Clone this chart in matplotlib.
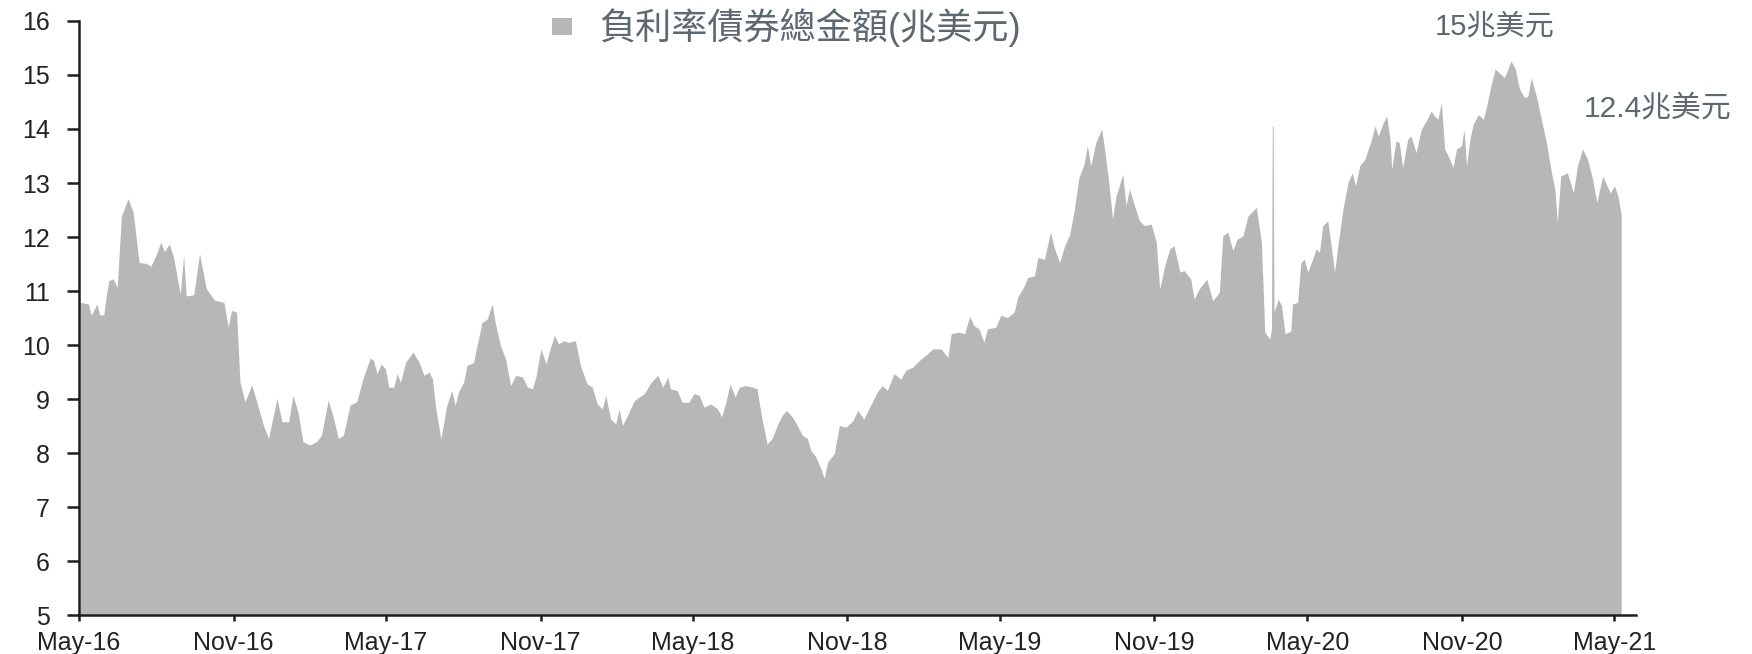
import numpy as np
import pandas as pd
import matplotlib
matplotlib.use("Agg")
import matplotlib.pyplot as plt
import matplotlib.dates as mdates
from matplotlib.patches import Patch

# 拉丁字母用 Liberation Sans，中文退回 Noto Sans CJK TC
plt.rcParams['font.family'] = ['Liberation Sans', 'Noto Sans CJK TC', 'DejaVu Sans']

# 全球負利率債券總金額（兆美元）
dates = [
    # 2016
    "2016-05-03", "2016-05-13", "2016-05-16", "2016-05-23", "2016-05-26", "2016-05-31",
    "2016-06-03", "2016-06-06", "2016-06-11", "2016-06-16", "2016-06-21", "2016-06-29",
    "2016-07-05", "2016-07-12", "2016-07-21", "2016-07-26", "2016-08-01", "2016-08-07",
    "2016-08-11", "2016-08-17", "2016-08-22", "2016-08-30", "2016-09-03", "2016-09-06",
    "2016-09-15", "2016-09-22", "2016-09-30", "2016-10-10", "2016-10-21", "2016-10-26",
    "2016-10-30", "2016-11-05", "2016-11-09", "2016-11-15", "2016-11-23", "2016-11-29",
    "2016-12-07", "2016-12-13", "2016-12-23", "2016-12-29",
    # 2017
    "2017-01-06", "2017-01-11", "2017-01-17", "2017-01-23", "2017-01-31", "2017-02-08",
    "2017-02-14", "2017-02-22", "2017-02-28", "2017-03-06", "2017-03-12", "2017-03-20",
    "2017-03-28", "2017-04-05", "2017-04-13", "2017-04-17", "2017-04-21", "2017-04-26",
    "2017-05-01", "2017-05-05", "2017-05-11", "2017-05-15", "2017-05-19", "2017-05-25",
    "2017-06-03", "2017-06-10", "2017-06-16", "2017-06-22", "2017-06-26", "2017-06-30",
    "2017-07-06", "2017-07-13", "2017-07-19", "2017-07-23", "2017-07-27", "2017-08-02",
    "2017-08-06", "2017-08-14", "2017-08-18", "2017-08-24", "2017-08-30", "2017-09-05",
    "2017-09-09", "2017-09-15", "2017-09-21", "2017-09-27", "2017-10-03", "2017-10-11",
    "2017-10-17", "2017-10-23", "2017-10-27", "2017-11-02", "2017-11-08", "2017-11-13",
    "2017-11-18", "2017-11-23", "2017-11-29", "2017-12-05", "2017-12-13", "2017-12-19",
    "2017-12-27",
    # 2018
    "2018-01-02", "2018-01-08", "2018-01-14", "2018-01-18", "2018-01-24", "2018-01-30",
    "2018-02-03", "2018-02-07", "2018-02-13", "2018-02-21", "2018-02-27", "2018-03-05",
    "2018-03-13", "2018-03-21", "2018-03-27", "2018-04-02", "2018-04-05", "2018-04-13",
    "2018-04-19", "2018-04-27", "2018-05-03", "2018-05-09", "2018-05-15", "2018-05-23",
    "2018-05-31", "2018-06-05", "2018-06-10", "2018-06-15", "2018-06-21", "2018-06-26",
    "2018-07-04", "2018-07-12", "2018-07-17", "2018-07-23", "2018-07-29", "2018-08-04",
    "2018-08-10", "2018-08-16", "2018-08-21", "2018-08-28", "2018-09-03", "2018-09-09",
    "2018-09-15", "2018-09-19", "2018-09-25", "2018-10-01", "2018-10-05", "2018-10-09",
    "2018-10-17", "2018-10-23", "2018-10-31", "2018-11-08", "2018-11-14", "2018-11-21",
    "2018-11-29", "2018-12-07", "2018-12-13", "2018-12-19", "2018-12-27",
    # 2019
    "2019-01-04", "2019-01-10", "2019-01-18", "2019-01-28", "2019-02-05", "2019-02-11",
    "2019-02-21", "2019-03-01", "2019-03-05", "2019-03-14", "2019-03-21", "2019-03-27",
    "2019-04-01", "2019-04-07", "2019-04-13", "2019-04-17", "2019-04-27", "2019-05-03",
    "2019-05-11", "2019-05-19", "2019-05-23", "2019-05-31", "2019-06-04", "2019-06-12",
    "2019-06-16", "2019-06-24", "2019-07-01", "2019-07-06", "2019-07-12", "2019-07-18",
    "2019-07-24", "2019-07-29", "2019-08-04", "2019-08-10", "2019-08-14", "2019-08-18",
    "2019-08-24", "2019-08-31", "2019-09-04", "2019-09-08", "2019-09-13", "2019-09-17",
    "2019-09-21", "2019-09-25", "2019-09-29", "2019-10-03", "2019-10-09", "2019-10-15",
    "2019-10-21", "2019-10-29", "2019-11-04", "2019-11-08", "2019-11-14", "2019-11-20",
    "2019-11-25", "2019-12-02", "2019-12-07", "2019-12-15", "2019-12-19", "2019-12-25",
    # 2020
    "2020-01-03", "2020-01-10", "2020-01-18", "2020-01-22", "2020-01-28", "2020-02-03",
    "2020-02-08", "2020-02-15", "2020-02-21", "2020-03-02", "2020-03-08", "2020-03-12",
    "2020-03-18", "2020-03-20", "2020-03-21", "2020-03-22", "2020-03-23", "2020-03-28",
    "2020-04-01", "2020-04-05", "2020-04-12", "2020-04-14", "2020-04-20", "2020-04-24",
    "2020-04-28", "2020-05-02", "2020-05-08", "2020-05-12", "2020-05-16", "2020-05-20",
    "2020-05-26", "2020-05-30", "2020-06-03", "2020-06-07", "2020-06-13", "2020-06-19",
    "2020-06-24", "2020-06-28", "2020-07-03", "2020-07-09", "2020-07-17", "2020-07-21",
    "2020-07-25", "2020-07-31", "2020-08-04", "2020-08-08", "2020-08-10", "2020-08-15",
    "2020-08-19", "2020-08-23", "2020-08-29", "2020-09-02", "2020-09-08", "2020-09-14",
    "2020-09-20", "2020-09-26", "2020-09-30", "2020-10-04", "2020-10-08", "2020-10-12",
    "2020-10-18", "2020-10-22", "2020-10-26", "2020-11-01", "2020-11-04", "2020-11-07",
    "2020-11-11", "2020-11-15", "2020-11-21", "2020-11-27", "2020-12-01", "2020-12-06",
    "2020-12-11", "2020-12-16", "2020-12-22", "2020-12-30",
    # 2021
    "2021-01-04", "2021-01-09", "2021-01-15", "2021-01-19", "2021-01-23", "2021-01-29",
    "2021-02-04", "2021-02-10", "2021-02-16", "2021-02-20", "2021-02-23", "2021-02-27",
    "2021-03-07", "2021-03-14", "2021-03-19", "2021-03-25", "2021-03-31", "2021-04-06",
    "2021-04-11", "2021-04-18", "2021-04-23", "2021-04-27", "2021-05-02", "2021-05-06",
    "2021-05-10",
]

values = [
    # 2016
    10.78, 10.75, 10.54, 10.75, 10.55, 10.55,
    10.90, 11.18, 11.22, 11.06, 12.38, 12.70,
    12.45, 11.52, 11.50, 11.45, 11.65, 11.90,
    11.72, 11.86, 11.62, 10.94, 11.65, 10.90,
    10.92, 11.68, 11.03, 10.82, 10.78, 10.32,
    10.63, 10.60, 9.31, 8.94, 9.25, 8.94,
    8.50, 8.26, 9.00, 8.57,
    # 2017
    8.57, 9.06, 8.75, 8.20, 8.14, 8.20,
    8.32, 8.97, 8.66, 8.26, 8.32, 8.88,
    8.94, 9.40, 9.75, 9.70, 9.46, 9.64,
    9.55, 9.21, 9.21, 9.46, 9.30, 9.67,
    9.86, 9.67, 9.43, 9.49, 9.36, 8.81,
    8.25, 8.87, 9.15, 8.87, 9.12, 9.30,
    9.61, 9.67, 9.98, 10.41, 10.47, 10.75,
    10.38, 9.98, 9.73, 9.24, 9.43, 9.40,
    9.21, 9.18, 9.40, 9.92, 9.64, 9.92,
    10.17, 10.01, 10.07, 10.04, 10.07, 9.61,
    9.27,
    # 2018
    9.21, 8.90, 8.81, 9.06, 8.62, 8.53,
    8.81, 8.50, 8.69, 8.96, 9.03, 9.09,
    9.30, 9.43, 9.21, 9.40, 9.18, 9.15,
    8.93, 8.93, 9.09, 9.06, 8.84, 8.90,
    8.81, 8.66, 8.93, 9.27, 9.03, 9.21,
    9.24, 9.21, 9.18, 8.62, 8.16, 8.26,
    8.50, 8.69, 8.78, 8.66, 8.50, 8.32,
    8.26, 8.04, 7.92, 7.70, 7.52, 7.82,
    7.98, 8.50, 8.47, 8.59, 8.78, 8.62,
    8.87, 9.12, 9.24, 9.15, 9.46,
    # 2019
    9.36, 9.52, 9.58, 9.73, 9.83, 9.92,
    9.92, 9.76, 10.20, 10.23, 10.20, 10.52,
    10.35, 10.29, 10.04, 10.29, 10.32, 10.54,
    10.50, 10.60, 10.87, 11.09, 11.24, 11.27,
    11.61, 11.58, 12.08, 11.77, 11.52, 11.83,
    12.04, 12.45, 13.09, 13.34, 13.68, 13.31,
    13.74, 13.99, 13.55, 13.06, 12.32, 12.75,
    12.94, 13.15, 12.57, 12.88, 12.57, 12.29,
    12.20, 12.23, 11.89, 11.03, 11.46, 11.77,
    11.83, 11.34, 11.37, 11.21, 10.84, 11.03,
    # 2020
    11.21, 10.81, 10.97, 12.01, 12.08, 11.74,
    11.95, 12.01, 12.38, 12.54, 11.89, 10.23,
    10.10, 10.30, 14.05, 14.05, 10.60, 10.84,
    10.72, 10.20, 10.25, 10.75, 10.78, 11.52,
    11.58, 11.34, 11.58, 11.77, 11.71, 12.20,
    12.29, 11.83, 11.34, 11.83, 12.51, 13.00,
    13.18, 12.94, 13.31, 13.43, 13.80, 14.05,
    13.86, 14.11, 14.23, 13.80, 13.25, 13.77,
    13.74, 13.28, 13.80, 13.86, 13.55, 13.98,
    14.14, 14.32, 14.23, 14.17, 14.48, 13.62,
    13.43, 13.28, 13.62, 13.68, 13.98, 13.31,
    13.80, 14.08, 14.26, 14.17, 14.42, 14.79,
    15.10, 15.03, 14.94, 15.25,
    # 2021
    15.10, 14.73, 14.57, 14.60, 14.94, 14.60,
    14.17, 13.74, 13.18, 12.88, 12.26, 13.12,
    13.18, 12.81, 13.31, 13.62, 13.43, 13.06,
    12.63, 13.12, 12.94, 12.81, 12.94, 12.75,
    12.40,
]

series_name = '負利率債券總金額(兆美元)'
unit = '兆美元'

dates = pd.to_datetime(dates)
values = np.array(values)

fill_color = '#b7b7b7'
text_color = '#5d6871'
axis_color = '#1e1e1e'
tick_text = '#222222'

fig = plt.figure(figsize=(17.52, 6.54), dpi=100)
ax = fig.add_axes([0.0451, 0.0596, 0.8887, 0.9083])

ax.fill_between(dates, 0, values, color=fill_color, linewidth=0, zorder=1)

ax.set_ylim(5, 16)
ax.set_yticks(range(5, 17))
ax.set_xlim(pd.Timestamp('2016-05-01'), pd.Timestamp('2021-05-27'))
ax.xaxis.set_major_locator(mdates.MonthLocator(bymonth=(5, 11)))
ax.xaxis.set_major_formatter(mdates.DateFormatter('%b-%y'))

for side in ['top', 'right']:
    ax.spines[side].set_visible(False)
for side in ['left', 'bottom']:
    ax.spines[side].set_linewidth(1.8)
    ax.spines[side].set_color(axis_color)
    ax.spines[side].set_zorder(3)

ax.tick_params(axis='y', length=9, width=1.8, pad=12, labelsize=18,
               color=axis_color, labelcolor=tick_text)
ax.tick_params(axis='x', length=4.5, width=1.8, pad=7, labelsize=18,
               color=axis_color, labelcolor=tick_text)

# 圖例放在圖頂中間
handle = Patch(facecolor=fill_color, edgecolor='none', label=series_name)
fig.legend(handles=[handle], loc='center left', bbox_to_anchor=(0.315, 0.957),
           frameon=False, fontsize=26, labelcolor=text_color,
           handlelength=0.55, handleheight=0.32, handletextpad=0.75,
           borderpad=0, borderaxespad=0)

# 標註最高點與最新值
peak = values.max()
last = values[-1]
ax.text(0.9094, 0.99, f'{peak:.0f}{unit}', transform=ax.transAxes,
        ha='center', va='center', fontsize=21, color=text_color)
ax.text(1.014, 0.8535, f'{last:.1f}{unit}', transform=ax.transAxes,
        ha='center', va='center', fontsize=21.5, color=text_color, clip_on=False)

fig.savefig('out.png', dpi=100, facecolor='white')
